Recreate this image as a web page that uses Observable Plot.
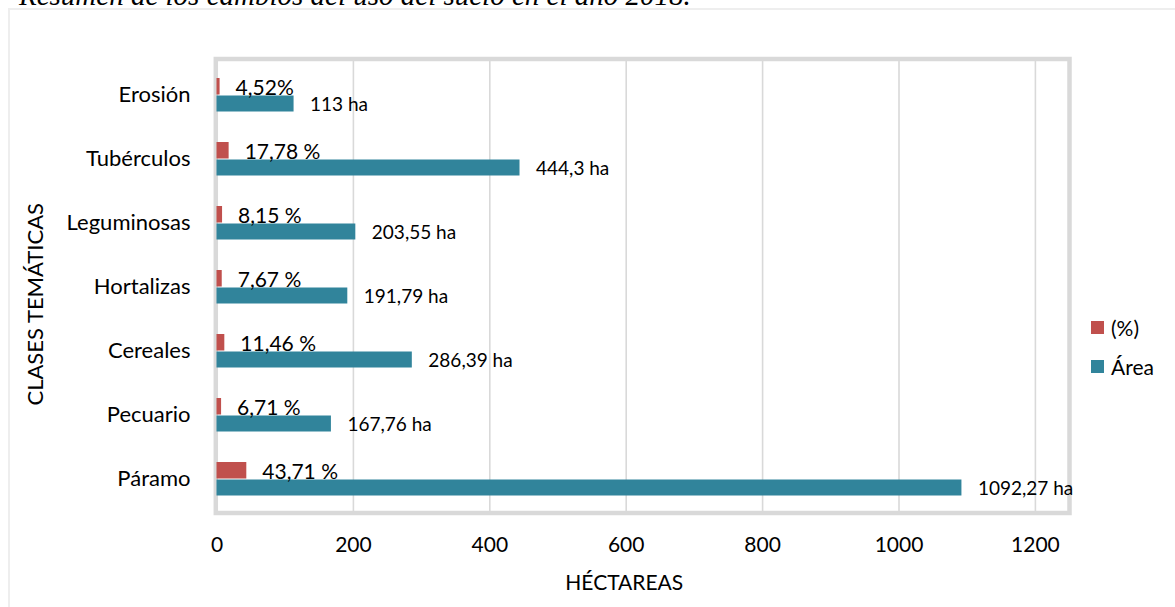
<!DOCTYPE html>
<html>
<head>
<meta charset="utf-8">
<script src="https://cdn.jsdelivr.net/npm/d3@7"></script>
<script src="https://cdn.jsdelivr.net/npm/@observablehq/plot@0.6"></script>
<style>
  html, body { margin: 0; padding: 0; background: #fff; }
  #wrap { position: relative; width: 1175px; height: 607px; overflow: hidden; font-family: Lato, sans-serif; }
  #title { position: absolute; left: 19px; top: -19px; font: italic 29px/1 "Liberation Serif", serif; color: #000; white-space: nowrap; }
  #border { position: absolute; left: 8px; top: 8px; width: 1200px; height: 700px; border: 2px solid #eeeeee; box-sizing: border-box; }
  #chart { position: absolute; left: 0; top: 0; }
  .legend { position: absolute; left: 1091px; font-size: 21px; color: #000; display: flex; align-items: center; }
  .legend span.sw { display: inline-block; width: 13px; height: 13px; margin-right: 7px; }
</style>
</head>
<body>
<div id="wrap">
  <div id="border"></div>
  <div id="title">Resumen de los cambios del uso del suelo en el año 2018.</div>
  <div id="chart"></div>
  <div class="legend" style="top:315px"><span class="sw" style="background:#C0504D"></span>(%)</div>
  <div class="legend" style="top:354px"><span class="sw" style="background:#31849B"></span>Área</div>
</div>
<script>
// Thematic land-use classes, top to bottom
const clases = ["Erosión", "Tubérculos", "Leguminosas", "Hortalizas", "Cereales", "Pecuario", "Páramo"];
// Area of each class (hectares)
const area = [113, 444.3, 203.55, 191.79, 286.39, 167.76, 1092.27];
// Share of total area (%)
const porcentaje = [4.52, 17.78, 8.15, 7.67, 11.46, 6.71, 43.71];
// Separator between number and "%" in each label
const pctSep = ["", " ", " ", " ", " ", " ", " "];
// Which area labels show the unit "ha" in muted gray
const haMuted = [true, true, false, false, true, true, false];
// Axis ticks
const xTicks = [0, 200, 400, 600, 800, 1000, 1200];

const coma = (v) => String(v).replace(".", ",");
const rows = clases.map((c, i) => ({
  clase: c,
  area: area[i],
  pct: porcentaje[i],
  pctLabel: coma(porcentaje[i]) + pctSep[i] + "%",
  areaLabel: coma(area[i]) + " ha"
}));

const TEAL = "#31849B";
const RED = "#C0504D";
const GRID = "#d9d9d9";

const chart = Plot.plot({
  width: 1175,
  height: 607,
  marginLeft: 216.5,
  marginRight: 106,
  marginTop: 58.5,
  marginBottom: 94,
  style: { fontFamily: "Lato, sans-serif", fontSize: "20px", color: "#000", background: "transparent" },
  x: { domain: [0, 1250], axis: null },
  y: { domain: clases, padding: 0, axis: null },
  marks: [
    Plot.gridX(xTicks.slice(1), { stroke: GRID, strokeOpacity: 1, strokeWidth: 1.6 }),
    Plot.frame({ stroke: GRID, strokeWidth: 4.5, insetLeft: -1.2, insetBottom: 0.5 }),
    Plot.barX(rows, { x: "pct", y: "clase", fill: RED, insetTop: 16, insetBottom: 31.5 }),
    Plot.barX(rows, { x: "area", y: "clase", fill: TEAL, insetTop: 33.5, insetBottom: 14.5 }),
    Plot.text(rows, { x: "pct", y: "clase", text: "pctLabel", textAnchor: "start", dx: 15.5, dy: -6, fontSize: 21, fill: "#000" }),
    Plot.text(rows, { x: "area", y: "clase", text: "areaLabel", textAnchor: "start", dx: 16, dy: 10.5, fontSize: 19, fill: "#000", ariaLabel: "area-labels" }),
    Plot.axisY({ tickSize: 0, tickPadding: 26.5, fontSize: 22, label: null }),
    Plot.axisX({ ticks: xTicks, tickSize: 0, tickPadding: 24, fontSize: 21, label: null, tickFormat: (d) => String(d) }),
    Plot.text(["CLASES TEMÁTICAS"], { frameAnchor: "left", rotate: -90, textAnchor: "middle", lineAnchor: "top", dx: -190, dy: 18, fontSize: 22, fill: "#000" }),
    Plot.text(["HÉCTAREAS"], { frameAnchor: "bottom", textAnchor: "middle", lineAnchor: "middle", dx: -19, dy: 70, fontSize: 21, fill: "#000" })
  ]
});

// Split each area label so the unit can carry its own colour
d3.select(chart).select('g[aria-label="area-labels"]').selectAll("text").each(function (d, i) {
  const txt = this.textContent;
  const num = txt.replace(/ ha$/, "");
  const t = d3.select(this);
  t.text(null);
  t.append("tspan").text(num + " ");
  t.append("tspan").attr("fill", haMuted[i] ? "#595959" : "#000").text("ha");
});

document.getElementById("chart").append(chart);
</script>
</body>
</html>
